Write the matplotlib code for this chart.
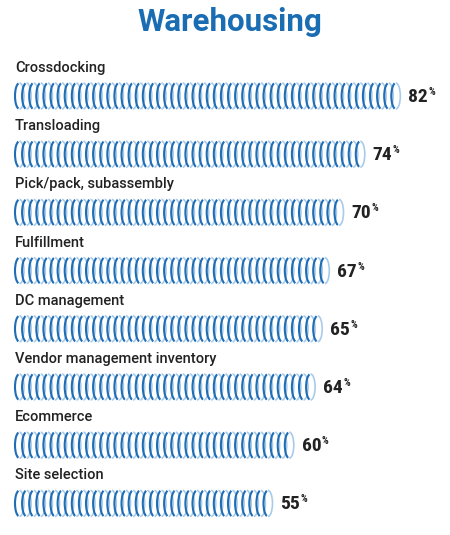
import matplotlib
matplotlib.use('Agg')
import matplotlib.pyplot as plt
from matplotlib.patches import Arc

labels = ['Crossdocking', 'Transloading', 'Pick/pack, subassembly', 'Fulfillment',
          'DC management', 'Vendor management inventory', 'Ecommerce', 'Site selection']
values = [82, 74, 70, 67, 65, 64, 60, 55]

dark = '#1f6db4'
light = '#a9cbea'

fig = plt.figure(figsize=(4.5, 5.35), dpi=100)
ax = fig.add_axes([0, 0, 1, 1])
ax.set_xlim(0, 450)
ax.set_ylim(535, 0)
ax.axis('off')

fam = ['Roboto Condensed', 'Roboto', 'DejaVu Sans']
ax.text(230, 22, 'Warehousing', ha='center', va='center', fontsize=22.5,
        fontweight='bold', color='#1a6db3', family=['Roboto', 'DejaVu Sans'])

x0 = 15
px_per = 4.7   # pixels per percent
step = 7.1
ew, eh = 9, 26

for i, (lab, v) in enumerate(zip(labels, values)):
    yb = 96 + i * 58.2
    ax.text(15, yb - 28, lab, ha='left', va='center', fontsize=10.5,
            fontweight='medium', color='#222222', family=['Roboto', 'DejaVu Sans'])
    end = x0 + v * px_per
    n = int(round((end - x0 - ew) / step)) + 1
    for k in range(n):
        cx = x0 + ew / 2 + k * step
        ax.add_patch(Arc((cx, yb), ew, eh, theta1=-90, theta2=90,
                         color=light, lw=1.2))
    for k in range(n):
        cx = x0 + ew / 2 + k * step
        ax.add_patch(Arc((cx, yb), ew, eh, theta1=95, theta2=265,
                         color=dark, lw=1.5))
    xe = x0 + ew + (n - 1) * step
    t = ax.text(xe + 8, yb + 1, str(v), ha='left', va='center', fontsize=14,
                fontweight='bold', color='#222222', family=fam)
    fig.canvas.draw()
    bb = t.get_window_extent()
    xr = bb.x1  # pixel coords match data x
    ax.text(xr + 0.5, yb - 4, '%', ha='left', va='center', fontsize=7.5,
            fontweight='bold', color='#222222', family=fam)

fig.savefig('out.png', dpi=100)
